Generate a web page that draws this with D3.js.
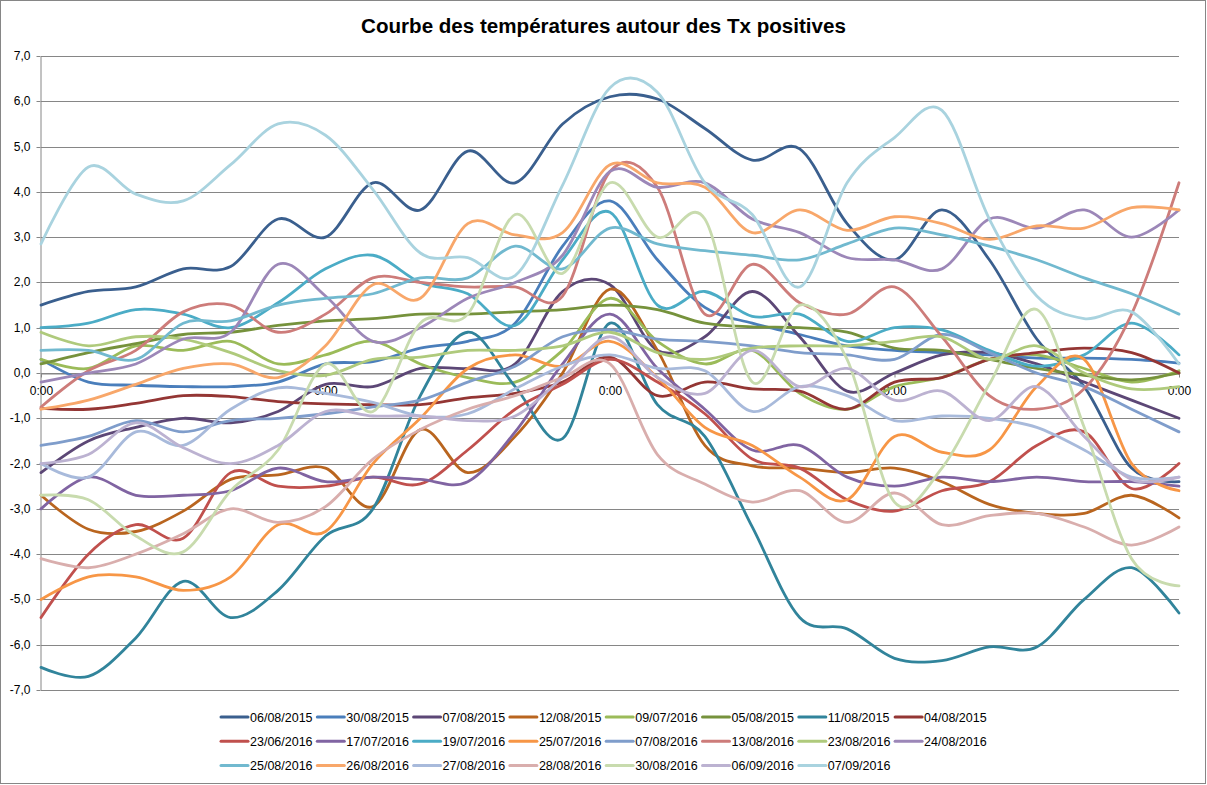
<!DOCTYPE html>
<html><head><meta charset="utf-8">
<script src="https://cdn.jsdelivr.net/npm/d3@7"></script>
<style>body{margin:0;background:#fff;} svg{display:block;font-family:"Liberation Sans",Arial,sans-serif;}</style>
</head><body><svg id="c" width="1207" height="785"></svg>
<script>
const titleText = "Courbe des températures autour des Tx positives";
const hours = ["0:00","4:00","8:00","12:00","16:00","20:00","0:00","4:00","8:00","12:00","16:00","20:00","0:00","4:00","8:00","12:00","16:00","20:00","0:00","4:00","8:00","12:00","16:00","20:00","0:00"];
const labelledHours = [0, 6, 12, 18, 24];
const yTicks = [-7,-6,-5,-4,-3,-2,-1,0,1,2,3,4,5,6,7];

const seriesNames = ["06/08/2015","30/08/2015","07/08/2015","12/08/2015","09/07/2016","05/08/2015","11/08/2015","04/08/2015",
  "23/06/2016","17/07/2016","19/07/2016","25/07/2016","07/08/2016","13/08/2016","23/08/2016","24/08/2016",
  "25/08/2016","26/08/2016","27/08/2016","28/08/2016","30/08/2016","06/09/2016","07/09/2016"];

const d_06_08_2015 = [1.5,1.8,1.9,2.3,2.35,3.4,3.0,4.2,3.6,4.9,4.2,5.5,6.1,6.05,5.4,4.7,4.95,3.3,2.5,3.6,2.5,0.75,-0.3,-2.1,-2.4];
const d_30_08_2015 = [0.3,-0.2,-0.27,-0.3,-0.3,-0.2,0.2,0.25,0.55,0.7,1.1,2.8,3.8,2.5,1.45,1.1,0.85,0.6,0.5,0.45,0.4,0.33,0.33,0.3,0.22];
const d_07_08_2015 = [-2.2,-1.5,-1.2,-1.0,-1.1,-0.85,-0.25,-0.3,0.1,0.1,0.2,1.8,1.95,0.5,0.8,1.8,0.8,-0.4,0.0,0.4,0.45,0.2,-0.2,-0.6,-1.0];
const d_12_08_2015 = [-2.7,-3.45,-3.5,-3.05,-2.35,-2.25,-2.1,-2.95,-1.25,-2.2,-1.4,0.0,1.85,0.5,-1.6,-2.05,-2.1,-2.2,-2.1,-2.4,-2.9,-3.1,-3.1,-2.7,-3.2];
const d_09_07_2016 = [0.3,0.1,0.6,0.5,0.7,0.2,0.4,0.7,0.2,-0.1,-0.2,0.5,1.65,0.7,0.2,0.5,-0.45,-0.8,-0.3,-0.1,0.3,0.4,0.1,-0.2,0.05];
const d_05_08_2015 = [0.2,0.45,0.65,0.85,0.9,1.05,1.15,1.2,1.3,1.3,1.35,1.4,1.5,1.4,1.1,1.02,1.0,0.9,0.55,0.5,0.3,0.1,-0.05,-0.15,0.0];
const d_11_08_2015 = [-6.5,-6.7,-5.85,-4.6,-5.4,-4.8,-3.6,-3.0,-0.5,0.9,-0.3,-1.45,1.1,-0.7,-1.4,-3.4,-5.4,-5.65,-6.3,-6.35,-6.05,-6.05,-5.0,-4.3,-5.3];
const d_04_08_2015 = [-0.78,-0.8,-0.67,-0.5,-0.52,-0.63,-0.68,-0.7,-0.7,-0.55,-0.45,-0.2,0.35,-0.5,-0.2,-0.35,-0.4,-0.8,-0.2,-0.1,0.3,0.45,0.55,0.45,0.0];
const d_23_06_2016 = [-5.4,-4.0,-3.35,-3.65,-2.2,-2.5,-2.5,-2.3,-2.45,-1.7,-0.8,-0.25,0.3,-0.2,-0.9,-1.9,-2.1,-2.8,-3.05,-2.6,-2.4,-1.6,-1.3,-2.55,-2.0];
const d_17_07_2016 = [-3.0,-2.3,-2.7,-2.7,-2.6,-2.1,-2.4,-2.3,-2.35,-2.4,-1.3,0.2,1.3,0.1,-0.8,-1.7,-1.6,-2.3,-2.5,-2.3,-2.4,-2.3,-2.4,-2.4,-2.5];
const d_19_07_2016 = [1.0,1.1,1.4,1.3,1.0,1.55,2.3,2.6,2.0,1.75,1.05,2.5,3.55,1.5,1.8,1.25,1.3,0.7,1.0,0.95,0.5,0.15,0.4,1.1,0.4];
const d_25_07_2016 = [-5.0,-4.5,-4.5,-4.8,-4.5,-3.35,-3.5,-2.0,-1.0,0.1,0.4,0.15,0.7,-0.1,-1.2,-1.6,-2.3,-2.8,-1.4,-1.75,-1.7,-0.3,0.3,-2.0,-2.6];
const d_07_08_2016 = [-1.6,-1.4,-1.05,-1.3,-1.05,-1.0,-0.9,-0.75,-0.6,-0.2,0.15,0.8,0.95,0.75,0.7,0.6,0.45,0.4,0.3,0.85,0.45,0.0,-0.3,-0.8,-1.3];
const d_13_08_2016 = [-0.75,0.05,0.5,1.35,1.5,0.9,1.3,2.1,2.0,1.9,1.9,1.7,4.45,4.1,1.3,2.4,1.55,1.3,1.9,0.8,-0.5,-0.8,-0.35,1.3,4.2];
const d_23_08_2016 = [0.9,0.6,0.8,0.75,0.45,0.05,-0.05,0.3,0.35,0.5,0.5,0.6,0.9,0.45,0.3,0.55,0.6,0.6,0.7,0.8,0.3,0.6,0.0,-0.35,-0.3];
const d_24_08_2016 = [-0.2,0.0,0.2,0.75,0.9,2.4,1.7,0.7,1.0,1.65,2.0,2.6,4.45,4.1,4.2,3.4,3.1,2.55,2.5,2.3,3.4,3.2,3.6,3.0,3.6];
const d_25_08_2016 = [0.5,0.5,0.3,1.1,1.15,1.5,1.65,1.75,2.1,2.1,2.8,2.3,3.2,2.85,2.7,2.6,2.5,2.85,3.2,3.05,2.8,2.5,2.1,1.75,1.3];
const d_26_08_2016 = [-0.8,-0.6,-0.25,0.1,0.2,-0.1,0.6,1.95,1.65,3.3,3.05,3.1,4.6,4.2,4.1,3.1,3.6,3.15,3.45,3.3,2.95,3.25,3.2,3.65,3.6];
const d_27_08_2016 = [-2.0,-2.3,-1.3,-1.6,-0.8,-0.33,-0.45,-0.65,-0.95,-0.9,-0.35,0.15,0.4,0.1,0.05,-0.85,-0.3,-0.5,-1.05,-0.95,-1.0,-1.2,-1.7,-2.3,-2.3];
const d_28_08_2016 = [-4.1,-4.3,-4.0,-3.55,-3.0,-3.3,-2.95,-1.9,-1.25,-0.8,-0.5,-0.1,0.2,-1.8,-2.45,-2.85,-2.6,-3.3,-2.65,-3.35,-3.15,-3.1,-3.4,-3.8,-3.4];
const d_30_08_2016 = [-2.7,-2.8,-3.6,-3.95,-2.6,-1.7,0.2,-0.85,1.1,1.3,3.5,2.2,4.2,3.0,3.4,-0.2,1.5,0.3,-2.85,-2.1,-0.25,1.4,-1.2,-4.1,-4.7];
const d_06_09_2016 = [-2.0,-1.8,-1.1,-1.65,-2.0,-1.6,-0.85,-0.95,-0.95,-1.05,-0.95,-0.1,0.8,-0.1,-0.45,0.5,-0.3,0.1,-0.6,-0.4,-1.05,-0.3,-1.4,-2.35,-2.3];
const d_07_09_2016 = [2.85,4.55,3.95,3.8,4.6,5.5,5.25,4.05,2.65,2.55,2.15,4.15,6.3,6.2,4.2,3.5,1.9,4.2,5.2,5.8,3.4,1.7,1.2,1.35,0.2];

const seriesValues = [d_06_08_2015,d_30_08_2015,d_07_08_2015,d_12_08_2015,d_09_07_2016,d_05_08_2015,d_11_08_2015,d_04_08_2015,
  d_23_06_2016,d_17_07_2016,d_19_07_2016,d_25_07_2016,d_07_08_2016,d_13_08_2016,d_23_08_2016,d_24_08_2016,
  d_25_08_2016,d_26_08_2016,d_27_08_2016,d_28_08_2016,d_30_08_2016,d_06_09_2016,d_07_09_2016];

const palette = ["#3A5F8E","#4A7EBB","#5C4776","#B9651F","#9BBB59","#76923C","#31849B","#943634",
  "#C0504D","#8064A2","#4BACC6","#F79646","#7F9DCB","#CD7C7A","#AFCA7C","#9C87B8",
  "#71B9CF","#F8A76A","#A8BADB","#D9AEAD","#C8DBAE","#BCB2D1","#A9D3DF"];

const W = 1207, H = 785;
const svg = d3.select('#c');
svg.append('rect').attr('x',0.5).attr('y',0.5).attr('width',W-2).attr('height',H-2)
  .attr('fill','#fff').attr('stroke','#868686');

const x = d3.scalePoint().domain(d3.range(hours.length)).range([41,1179]);
const y = d3.scaleLinear().domain([-7,7]).range([690,56]);
const gridCol = '#868686';
const crisp = v => Math.round(v) + 0.5;

// gridlines
svg.append('g').selectAll('line').data(yTicks).join('line')
  .attr('x1',41).attr('x2',1179)
  .attr('y1',d=>crisp(y(d))).attr('y2',d=>crisp(y(d)))
  .attr('stroke',gridCol).attr('stroke-width',1);

// y axis
const fmt = d => d.toFixed(1).replace('.', ',');
const gy = svg.append('g').attr('transform','translate(40.5,0)')
  .call(d3.axisLeft(y).tickValues(yTicks).tickFormat(fmt).tickSize(4).tickSizeOuter(0).tickPadding(6));
gy.select('.domain').attr('stroke',gridCol);
gy.selectAll('.tick line').attr('stroke',gridCol);
gy.selectAll('.tick').attr('transform', d => `translate(0,${crisp(y(d))})`);
gy.selectAll('text').attr('font-size',12).attr('font-family','"Liberation Sans",Arial,sans-serif').attr('fill','#000');

// x axis at zero
const gx = svg.append('g').attr('transform',`translate(0,${crisp(y(0))})`)
  .call(d3.axisBottom(x).tickValues(labelledHours).tickFormat(i=>hours[i]).tickSize(4).tickSizeOuter(0).tickPadding(9));
gx.select('.domain').attr('stroke',gridCol);
gx.selectAll('.tick line').attr('stroke',gridCol);
gx.selectAll('text').attr('font-size',12).attr('font-family','"Liberation Sans",Arial,sans-serif').attr('fill','#000');

// lines
const line = d3.line().x((d,i)=>x(i)).y(d=>y(d)).curve(d3.curveCardinal.tension(0));
svg.append('g').selectAll('path').data(seriesValues).join('path')
  .attr('d', d=>line(d))
  .attr('fill','none')
  .attr('stroke',(d,i)=>palette[i])
  .attr('stroke-width',2.8)
  .attr('stroke-linejoin','round')
  .attr('stroke-linecap','round');

// title
const title = svg.append('text').attr('x',603.5).attr('y',33).attr('text-anchor','middle')
  .attr('font-weight','bold').attr('font-size',18).attr('fill','#000').text(titleText);
const tw = title.node().getComputedTextLength();
title.attr('font-size', 18*485/tw);

// legend
const leg = svg.append('g');
seriesNames.forEach((name,i)=>{
  const col = i % 8, row = Math.floor(i/8);
  const x0 = 221 + col*96.3, y0 = 717 + row*24.2;
  leg.append('line').attr('x1',x0).attr('x2',x0+27).attr('y1',y0).attr('y2',y0)
    .attr('stroke',palette[i]).attr('stroke-width',3).attr('stroke-linecap','round');
  leg.append('text').attr('x',x0+29).attr('y',y0).attr('dy','0.36em')
    .attr('font-size',12.5).attr('fill','#000').text(name);
});
</script></body></html>
